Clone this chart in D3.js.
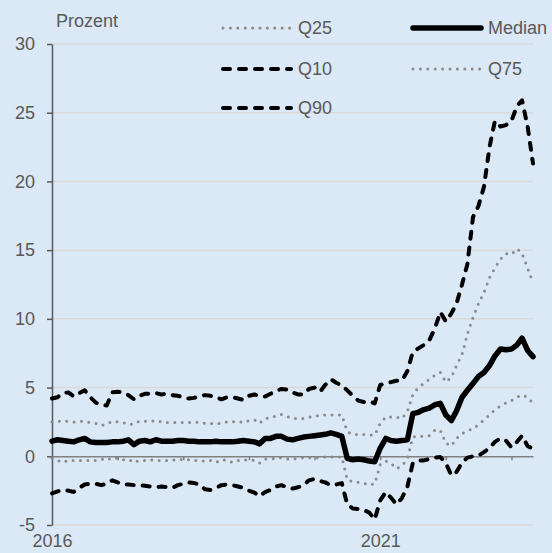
<!DOCTYPE html>
<html>
<head>
<meta charset="utf-8">
<script src="https://cdn.jsdelivr.net/npm/d3@7"></script>
<style>
  body { margin: 0; background: #dbe8f6; }
  svg { display: block; font-family: "Liberation Sans", Arial, sans-serif; }
</style>
</head>
<body>
<div id="chart"></div>
<script>
// monthly values, Jan 2016 .. May 2023
const months = d3.timeMonth.range(new Date(2016, 0, 1), new Date(2023, 5, 1))

const median = [
  1.1, 1.2, 1.15, 1.1, 1.05, 1.2, 1.3, 1.05, 1.0, 1.0, 1.0, 1.05,
  1.05, 1.1, 1.2, 0.85, 1.1, 1.15, 1.05, 1.2, 1.1, 1.1, 1.1, 1.15,
  1.15, 1.1, 1.1, 1.05, 1.05, 1.05, 1.1, 1.05, 1.05, 1.05, 1.1, 1.15,
  1.1, 1.05, 0.9, 1.3, 1.3, 1.45, 1.45, 1.25, 1.2, 1.3, 1.4, 1.45,
  1.5, 1.55, 1.6, 1.7, 1.6, 1.45, -0.15, -0.25, -0.2, -0.25, -0.35, -0.4,
  0.6, 1.3, 1.15, 1.1, 1.15, 1.2, 3.1, 3.2, 3.4, 3.5, 3.75, 3.85,
  3.0, 2.6, 3.3, 4.3, 4.8, 5.3, 5.8, 6.1, 6.6, 7.3, 7.8, 7.75,
  7.8, 8.1, 8.6, 7.7, 7.25
]
const q90 = [
  4.2, 4.3, 4.6, 4.65, 4.35, 4.6, 4.8, 4.3, 3.9, 3.75, 3.7, 4.65,
  4.7, 4.65, 4.45, 4.15, 4.4, 4.55, 4.55, 4.6, 4.5, 4.55, 4.45, 4.4,
  4.3, 4.2, 4.25, 4.35, 4.45, 4.4, 4.3, 4.15, 4.3, 4.3, 4.2, 4.1,
  4.4, 4.5, 4.4, 4.35, 4.55, 4.75, 4.9, 4.85, 4.65, 4.5, 4.5, 4.9,
  5.0, 4.7, 5.2, 5.6, 5.35, 5.15, 4.8, 4.4, 4.05, 3.95, 4.0, 3.85,
  5.2, 5.3, 5.4, 5.5, 5.5, 6.2, 7.6, 7.85, 8.1, 8.45, 9.3, 10.5,
  9.8, 10.4, 11.1, 12.5, 14.0, 17.4, 18.2, 19.6, 22.5, 24.4, 24.0, 24.1,
  24.4, 25.5, 25.9, 24.0, 21.3
]
const q10 = [
  -2.7, -2.55, -2.45, -2.5, -2.6, -2.3, -2.05, -2.0, -2.0, -2.1, -2.0, -1.75,
  -1.9, -2.05, -2.05, -2.1, -2.1, -2.15, -2.2, -2.25, -2.2, -2.25, -2.3, -2.1,
  -2.0, -1.9, -1.95, -2.05, -2.4, -2.45, -2.3, -2.1, -2.05, -2.1, -2.2, -2.3,
  -2.5, -2.65, -2.9, -2.6, -2.45, -2.2, -2.1, -2.25, -2.35, -2.25, -2.1, -1.75,
  -1.65, -1.8, -1.9, -2.1, -2.05, -1.95, -3.5, -3.8, -3.85, -3.9, -4.1, -4.6,
  -3.2, -2.6, -3.0, -3.5, -3.05, -2.2, -0.5, -0.3, -0.3, -0.2, -0.1, -0.05,
  -0.5, -1.4, -1.15, -0.45, -0.1, 0.0, 0.05, 0.3, 0.6, 1.05, 1.3, 1.15,
  0.65, 1.05, 1.5, 0.75, 0.55
]
const q75 = [
  2.5, 2.55, 2.55, 2.55, 2.5, 2.55, 2.55, 2.45, 2.4, 2.25, 2.35, 2.55,
  2.5, 2.45, 2.3, 2.35, 2.55, 2.55, 2.55, 2.6, 2.5, 2.45, 2.45, 2.45,
  2.45, 2.45, 2.5, 2.45, 2.4, 2.4, 2.35, 2.4, 2.5, 2.5, 2.55, 2.45,
  2.6, 2.65, 2.4, 2.75, 2.8, 2.95, 3.05, 2.9, 2.75, 2.75, 2.75, 2.85,
  2.9, 3.0, 3.0, 3.0, 3.0, 3.0, 1.8, 1.6, 1.58, 1.58, 1.55, 1.55,
  2.4, 2.86, 2.86, 2.86, 2.75, 3.25, 4.5, 5.0, 5.3, 5.6, 5.9, 6.1,
  5.4, 5.75, 6.6, 7.4, 8.9, 10.1, 11.1, 11.9, 13.0, 13.7, 14.35, 14.75,
  14.7, 15.1, 14.75, 13.7, 12.6
]
const q25 = [
  -0.15, -0.3, -0.45, -0.3, -0.3, -0.3, -0.3, -0.3, -0.3, -0.2, -0.3, -0.1,
  -0.15, -0.25, -0.2, -0.45, -0.3, -0.3, -0.25, -0.3, -0.3, -0.3, -0.25, -0.3,
  -0.2, -0.25, -0.3, -0.3, -0.35, -0.3, -0.45, -0.25, -0.3, -0.45, -0.3, -0.3,
  -0.25, -0.3, -0.5, -0.2, -0.2, -0.15, -0.1, -0.2, -0.2, -0.15, -0.1, -0.1,
  -0.1, -0.1, -0.05, -0.05, -0.05, -0.05, -1.7, -1.85, -1.9, -1.95, -2.1, -2.0,
  -0.6, -0.35, -0.5, -0.9, -0.7, -0.2, 1.4, 1.45, 1.45, 1.5, 1.9, 1.9,
  0.95, 0.75, 1.3, 1.65, 1.85, 2.0, 2.3, 2.65, 3.0, 3.4, 3.66, 3.88,
  4.05, 4.3, 4.45, 4.3, 3.85
]

const yTicks = [-5, 0, 5, 10, 15, 20, 25, 30]
const xLabelYears = [2016, 2021]

const MARGIN = { TOP: 44, BOTTOM: 28, LEFT: 52, RIGHT: 19 }
const WIDTH = 552 - MARGIN.LEFT - MARGIN.RIGHT
const HEIGHT = 553 - MARGIN.TOP - MARGIN.BOTTOM

const TEXT = "#595959"
const FONT_SIZE = "18px"

const styles = {
  dotted: { stroke: "#8a8a8a", width: 3, dash: "0,7.4", cap: "round" },
  dashed: { stroke: "#000", width: 4, dash: "7,9", cap: "round" },
  solid: { stroke: "#000", width: 5.5, dash: null, cap: "round" }
}

const series = [
  { name: "Q25", values: q25, style: "dotted" },
  { name: "Q75", values: q75, style: "dotted" },
  { name: "Q10", values: q10, style: "dashed" },
  { name: "Q90", values: q90, style: "dashed" },
  { name: "Median", values: median, style: "solid" }
]

const svg = d3.select("#chart")
  .append("svg")
    .attr("width", WIDTH + MARGIN.LEFT + MARGIN.RIGHT)
    .attr("height", HEIGHT + MARGIN.TOP + MARGIN.BOTTOM)
  .append("g")
    .attr("transform", `translate(${MARGIN.LEFT}, ${MARGIN.TOP})`)

const x = d3.scaleTime()
  .domain(d3.extent(months))
  .range([0, WIDTH])

const y = d3.scaleLinear()
  .domain([-5, 30])
  .range([HEIGHT, 0])

// grid
svg.append("g")
  .selectAll("line")
  .data(yTicks.filter(d => d !== 0))
  .enter().append("line")
    .attr("x1", 0)
    .attr("x2", WIDTH)
    .attr("y1", d => y(d))
    .attr("y2", d => y(d))
    .attr("stroke", "#d9d9d9")
    .attr("stroke-width", 1.5)

// y axis
const yAxisCall = d3.axisLeft(y)
  .tickValues(yTicks)
  .tickSize(5)
  .tickSizeOuter(0)
  .tickPadding(12)
  .tickFormat(d => String(d))
const yAxis = svg.append("g").call(yAxisCall)
yAxis.select(".domain").attr("stroke", TEXT).attr("stroke-width", 1.5)
yAxis.selectAll(".tick line").attr("stroke", TEXT).attr("stroke-width", 1.5)
yAxis.selectAll("text")
  .attr("fill", TEXT)
  .style("font-size", FONT_SIZE)
  .style("font-family", "Liberation Sans, Arial, sans-serif")

// zero line with yearly ticks
const zeroAxisCall = d3.axisBottom(x)
  .ticks(d3.timeYear.every(1))
  .tickSize(4)
  .tickSizeOuter(0)
  .tickFormat("")
const zeroAxis = svg.append("g")
  .attr("transform", `translate(0, ${y(0)})`)
  .call(zeroAxisCall)
zeroAxis.select(".domain").attr("stroke", "#808080").attr("stroke-width", 1.5)
zeroAxis.selectAll(".tick line").attr("stroke", "#808080").attr("stroke-width", 1.5)

// year labels
const xAxisCall = d3.axisBottom(x)
  .tickValues(xLabelYears.map(yr => new Date(yr, 0, 1)))
  .tickSize(0)
  .tickPadding(9)
  .tickFormat(d3.timeFormat("%Y"))
const xAxis = svg.append("g")
  .attr("transform", `translate(0, ${HEIGHT})`)
  .call(xAxisCall)
xAxis.select(".domain").remove()
xAxis.selectAll("text")
  .attr("fill", TEXT)
  .style("font-size", FONT_SIZE)
  .style("font-family", "Liberation Sans, Arial, sans-serif")

// lines
const line = d3.line()
  .x((d, i) => x(months[i]))
  .y(d => y(d))

svg.append("g")
  .selectAll("path")
  .data(series)
  .enter().append("path")
    .attr("d", d => line(d.values))
    .attr("fill", "none")
    .attr("stroke", d => styles[d.style].stroke)
    .attr("stroke-width", d => styles[d.style].width)
    .attr("stroke-dasharray", d => styles[d.style].dash)
    .attr("stroke-linecap", d => styles[d.style].cap)
    .attr("stroke-linejoin", "round")

// unit label
svg.append("text")
  .attr("x", 4)
  .attr("y", -17)
  .attr("fill", TEXT)
  .style("font-size", FONT_SIZE)
  .text("Prozent")

// legend
const legendItems = [
  { name: "Q25", style: "dotted", col: 0, row: 0 },
  { name: "Median", style: "solid", col: 1, row: 0 },
  { name: "Q10", style: "dashed", col: 0, row: 1 },
  { name: "Q75", style: "dotted", col: 1, row: 1 },
  { name: "Q90", style: "dashed", col: 0, row: 2 }
]
const legend = svg.append("g")
  .attr("transform", `translate(${-MARGIN.LEFT}, ${-MARGIN.TOP})`)
const item = legend.selectAll("g")
  .data(legendItems)
  .enter().append("g")
    .attr("transform", d => `translate(${d.col ? 413 : 223}, ${[28, 69, 108][d.row]})`)
item.append("line")
  .attr("x1", 0)
  .attr("x2", 68)
  .attr("stroke", d => styles[d.style].stroke)
  .attr("stroke-width", d => styles[d.style].width)
  .attr("stroke-dasharray", d => styles[d.style].dash)
  .attr("stroke-linecap", d => styles[d.style].cap)
item.append("text")
  .attr("x", 75)
  .attr("dy", "0.36em")
  .attr("fill", TEXT)
  .style("font-size", FONT_SIZE)
  .text(d => d.name)
</script>
</body>
</html>
